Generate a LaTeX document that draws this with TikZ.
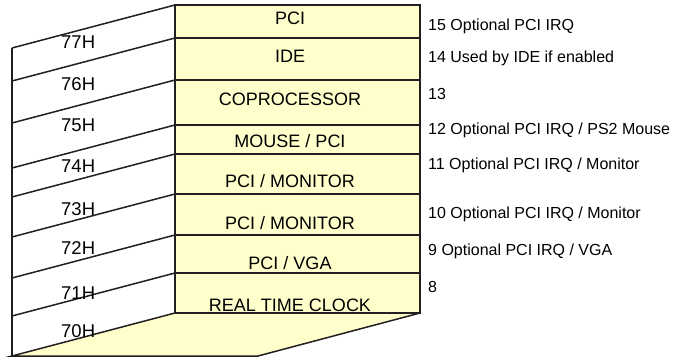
\documentclass[tikz,border=0pt]{standalone}
\usepackage{fontspec}
\setmainfont{Liberation Sans}
\definecolor{regline}{RGB}{35,31,32}
\definecolor{regfill}{RGB}{255,255,204}
\begin{document}
\begin{tikzpicture}[x=1pt, y=-1pt,
    edge/.style={regline, line width=1.5pt},
    boxtext/.style={font=\fontsize{18}{20}\selectfont, anchor=base, inner sep=0pt},
    addrtext/.style={font=\fontsize{18.5}{20}\selectfont, anchor=base west, inner sep=0pt},
    irqtext/.style={font=\fontsize{16}{18}\selectfont, anchor=base west, inner sep=0pt}]

    \useasboundingbox (0,0) rectangle (679,358);

    % Bottom face
    \fill[regfill] (12,356) -- (258,356) -- (420,313) -- (175,313) -- cycle;
    \draw[edge] (175,313) -- (12,356) -- (258,356) -- (420,313);

    % Register box
    \fill[regfill] (175,5) rectangle (420,313);
    \draw[edge] (175,5) rectangle (420,313);

    % Slanted side lines
    \foreach \y in {5,38,80,125,154,194,235,273}
        \draw[edge] (12,\y+43) -- (175,\y);

    % Row lines
    \foreach \y in {38,80,125,154,194,235,273}
        \draw[edge] (175,\y) -- (420,\y);

    % Left edge
    \draw[edge] (12,48) -- (12,356);

    % Row names
    \foreach \y/\t [count=\i] in {25/PCI, 63/IDE, 106/COPROCESSOR, 148/{MOUSE / PCI},
        187/{PCI / MONITOR}, 229/{PCI / MONITOR}, 269/{PCI / VGA}, 311/REAL TIME CLOCK}
        \node[boxtext] (row\i) at (290,\y) {\t};

    % Port addresses
    \foreach \y/\t [count=\i] in {49/77H, 91/76H, 131.5/75H, 172.5/74H,
        215/73H, 254/72H, 299/71H, 337.5/70H}
        \node[addrtext] (addr\i) at (61,\y) {\t};

    % IRQ notes
    \foreach \y/\t [count=\i] in {31/15 Optional PCI IRQ, 63/14 Used by IDE if enabled, 100/13,
        135/{12 Optional PCI IRQ / PS2 Mouse}, 170/{11 Optional PCI IRQ / Monitor},
        218/{10 Optional PCI IRQ / Monitor}, 255/{9 Optional PCI IRQ / VGA}, 292/8}
        \node[irqtext] (irq\i) at (428,\y) {\t};

\end{tikzpicture}
\end{document}
